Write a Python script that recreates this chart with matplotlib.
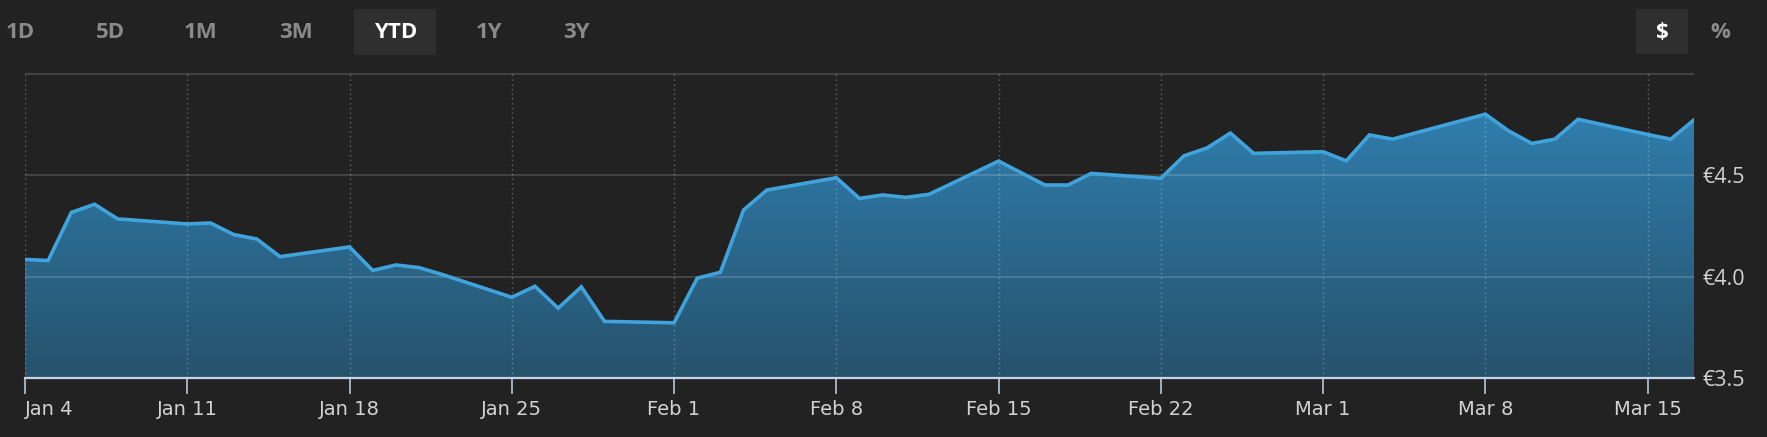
import numpy as np
import matplotlib
matplotlib.use("Agg")
import matplotlib.pyplot as plt
import matplotlib.dates as mdates
from matplotlib.patches import Rectangle
from datetime import datetime

# Cotizaciones diarias (YTD)
dates = ["2021-01-04", "2021-01-05", "2021-01-06", "2021-01-07", "2021-01-08",
         "2021-01-11", "2021-01-12", "2021-01-13", "2021-01-14", "2021-01-15",
         "2021-01-18", "2021-01-19", "2021-01-20", "2021-01-21", "2021-01-22",
         "2021-01-25", "2021-01-26", "2021-01-27", "2021-01-28", "2021-01-29",
         "2021-02-01", "2021-02-02", "2021-02-03", "2021-02-04", "2021-02-05",
         "2021-02-08", "2021-02-09", "2021-02-10", "2021-02-11", "2021-02-12",
         "2021-02-15", "2021-02-16", "2021-02-17", "2021-02-18", "2021-02-19",
         "2021-02-22", "2021-02-23", "2021-02-24", "2021-02-25", "2021-02-26",
         "2021-03-01", "2021-03-02", "2021-03-03", "2021-03-04", "2021-03-05",
         "2021-03-08", "2021-03-09", "2021-03-10", "2021-03-11", "2021-03-12",
         "2021-03-15", "2021-03-16", "2021-03-17"]
prices = [4.084, 4.079, 4.316, 4.356, 4.284,
          4.259, 4.264, 4.207, 4.185, 4.098,
          4.146, 4.030, 4.057, 4.044, 4.010,
          3.898, 3.952, 3.844, 3.949, 3.779,
          3.772, 3.992, 4.021, 4.328, 4.426,
          4.487, 4.385, 4.402, 4.390, 4.405,
          4.569, 4.510, 4.451, 4.451, 4.508,
          4.484, 4.595, 4.634, 4.707, 4.607,
          4.615, 4.570, 4.698, 4.677, 4.708,
          4.800, 4.718, 4.656, 4.677, 4.775,
          4.700, 4.677, 4.772]

tick_dates = ["2021-01-04", "2021-01-11", "2021-01-18", "2021-01-25", "2021-02-01",
              "2021-02-08", "2021-02-15", "2021-02-22", "2021-03-01", "2021-03-08",
              "2021-03-15"]
tick_labels = ["Jan 4", "Jan 11", "Jan 18", "Jan 25", "Feb 1", "Feb 8",
               "Feb 15", "Feb 22", "Mar 1", "Mar 8", "Mar 15"]
y_ticks = [3.5, 4.0, 4.5]
y_labels = ["€3.5", "€4.0", "€4.5"]
buttons = ["1D", "5D", "1M", "3M", "YTD", "1Y", "3Y"]
button_x = [20, 110, 201, 296, 396, 489, 576]

bg = "#222222"
W, H = 1767, 437

x = mdates.date2num([datetime.strptime(d, "%Y-%m-%d") for d in dates])
xt = mdates.date2num([datetime.strptime(d, "%Y-%m-%d") for d in tick_dates])
y = np.array(prices)

fig = plt.figure(figsize=(W / 100, H / 100), dpi=100, facecolor=bg)
ax = fig.add_axes([25 / W, 1 - 378 / H, (1694 - 25) / W, (378 - 73) / H])
ax.set_facecolor(bg)

x0, x1 = x[0], x[-1]
ax.set_xlim(x0, x1)
ax.set_ylim(3.5, 5.003)

# Relleno con degradado recortado bajo la curva
poly = ax.fill_between(x, y, 3.5, facecolor="none", edgecolor="none")
grad = np.linspace(0, 1, 256).reshape(-1, 1, 1)
top = np.array([49, 132, 183]) / 255
bot = np.array([38, 82, 108]) / 255
img = top * (1 - grad) + bot * grad
im = ax.imshow(img, extent=[x0, x1, 3.5, 5.0], aspect="auto", origin="upper", zorder=1)
im.set_clip_path(poly.get_paths()[0], ax.transData)

ax.plot(x, y, color="#41a3dc", linewidth=2.6, zorder=4, solid_joinstyle="miter")

# Rejilla
for v in [4.0, 4.5, 5.0]:
    ax.axhline(v, color="white", alpha=0.17, linewidth=1.3, zorder=3)
for t in xt:
    ax.axvline(t, color="white", alpha=0.25, linewidth=1.0, linestyle=(0, (1.2, 2.2)), zorder=3)

for s in ["top", "left", "right"]:
    ax.spines[s].set_visible(False)
ax.spines["bottom"].set_color("#c5d5e6")
ax.spines["bottom"].set_linewidth(1.6)
ax.spines["bottom"].set_zorder(5)

ax.set_xticks(xt)
ax.set_xticklabels(tick_labels)
ax.tick_params(axis="x", direction="out", length=11.5, width=1.1, color="#c5d5e6",
               labelcolor="#d2d2d2", labelsize=14, pad=4)
for lab in ax.get_xticklabels():
    lab.set_family(["Liberation Sans Narrow", "DejaVu Sans"])
ax.get_xticklabels()[0].set_horizontalalignment("left")

ax.yaxis.tick_right()
ax.set_yticks(y_ticks)
ax.set_yticklabels(y_labels)
ax.tick_params(axis="y", length=0, pad=6, labelcolor="#d2d2d2", labelsize=15.5)
for lab in ax.get_yticklabels():
    lab.set_family(["Open Sans", "DejaVu Sans"])

# Botones de rango
fig.add_artist(Rectangle((354 / W, 1 - 55 / H), 82 / W, 46 / H, transform=fig.transFigure,
                         facecolor="#2f2f2f", edgecolor="none"))
fig.add_artist(Rectangle((1636 / W, 1 - 54 / H), 52 / W, 45 / H, transform=fig.transFigure,
                         facecolor="#2f2f2f", edgecolor="none"))
for b, bx in zip(buttons, button_x):
    c = "white" if b == "YTD" else "#8a8a8a"
    fig.text(bx / W, 1 - 32.5 / H, b, ha="center", va="center", fontsize=16,
             fontweight="bold", color=c, family=["Open Sans", "DejaVu Sans"])
fig.text(1662 / W, 1 - 32.5 / H, "$", ha="center", va="center", fontsize=16,
         fontweight="bold", color="white", family=["Open Sans", "DejaVu Sans"])
fig.text(1720 / W, 1 - 32.5 / H, "%", ha="center", va="center", fontsize=16,
         fontweight="bold", color="#8a8a8a", family=["Open Sans", "DejaVu Sans"])

fig.savefig("out.png", dpi=100, facecolor=bg)
